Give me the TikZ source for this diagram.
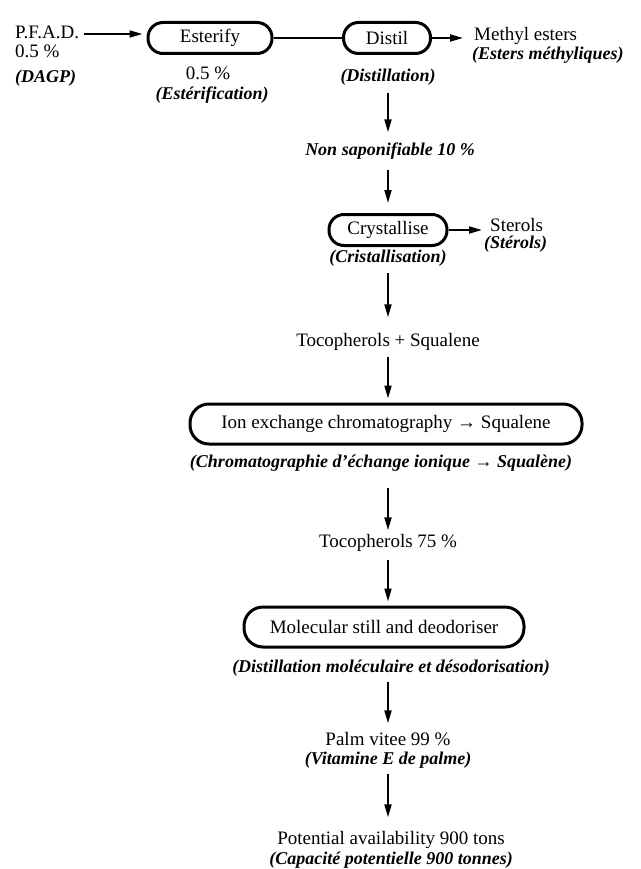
\documentclass[tikz,border=0pt]{standalone}
\usepackage{fontspec}
\setmainfont{Liberation Serif}
\usetikzlibrary{arrows.meta}
\begin{document}
\begin{tikzpicture}[x=1pt,y=-1pt,
  txt/.style={inner sep=2pt,text height=13pt,text depth=4pt,font=\fontsize{19}{19}\selectfont},
  itx/.style={txt,font=\fontsize{18}{18}\selectfont\bfseries\itshape},
  pill/.style={draw,line width=3pt,rounded corners=15pt,inner sep=0pt,font=\fontsize{19}{19}\selectfont},
  arr/.style={line width=1.9pt,-{Triangle[length=13pt,width=7pt]}},
  lin/.style={line width=1.9pt}]
\useasboundingbox (0,0) rectangle (640,869);
% top row
\node[txt,anchor=west] (pfad) at (13,34) {P.F.A.D.};
\node[txt,anchor=west] (pfadp) at (13,53) {0.5 \%};
\node[itx,anchor=west] (dagp) at (13,78) {(DAGP)};
\node[pill,minimum width=124pt,minimum height=31pt] (est) at (210,38) {Esterify};
\node[txt] (estp) at (208,75) {0.5 \%};
\node[itx] (estf) at (212,95) {(Estérification)};
\node[pill,minimum width=87pt,minimum height=31pt] (dis) at (387,38) {Distil};
\node[itx] (disl) at (388,77) {(Distillation)};
\node[txt,anchor=west] (meth) at (472,36) {Methyl esters};
\node[itx,anchor=west] (methf) at (470,55) {(Esters méthyliques)};
\draw[arr,shorten <=3pt,shorten >=4pt] (pfad.east) -- (pfad.east -| est.west);
\draw[lin] (est.east) -- (dis.west);
\draw[arr,shorten >=9pt] (dis.east) -- (dis.east -| meth.west);
% non saponifiable
\node[itx] (nons) at (390,151) {Non saponifiable 10 \%};
\draw[arr,shorten <=5pt,shorten >=8pt] (disl.south) -- (disl.south |- nons.north);
% crystallise
\node[pill,minimum width=118pt,minimum height=31pt] (cry) at (388,230) {Crystallise};
\node[itx] (cryl) at (388,258) {(Cristallisation)};
\node[txt,anchor=west] (ster) at (488,227) {Sterols};
\node[itx,anchor=west] (sterf) at (482,244) {(Stérols)};
\draw[arr,shorten <=8pt,shorten >=10pt] (nons.south -| cry.north) -- (cry.north);
\draw[arr,shorten >=6pt] (cry.east) -- (cry.east -| ster.west);
% tocopherols + squalene
\node[txt] (tsq) at (388,342) {Tocopherols + Squalene};
\draw[arr,shorten <=4pt,shorten >=14pt] (cryl.south) -- (tsq.north);
% ion exchange
\node[pill,minimum width=392pt,minimum height=40pt,rounded corners=19pt] (ion) at (386,424) {Ion exchange chromatography → Squalene};
\node[itx] (ionl) at (381,463) {(Chromatographie d'échange ionique → Squalène)};
\draw[arr,shorten <=4pt,shorten >=4pt] (tsq.south) -- (tsq.south |- ion.north);
% tocopherols 75
\node[txt] (t75) at (388,543) {Tocopherols 75 \%};
\draw[arr,shorten <=14pt,shorten >=2pt] (ionl.south -| t75.north) -- (t75.north);
% molecular still
\node[pill,minimum width=280pt,minimum height=40pt,rounded corners=19pt] (mol) at (384,627) {Molecular still and deodoriser};
\node[itx] (moll) at (391,668) {(Distillation moléculaire et désodorisation)};
\draw[arr,shorten <=6pt,shorten >=4pt] (t75.south) -- (t75.south |- mol.north);
% palm vitee
\node[txt] (palm) at (388,741) {Palm vitee 99 \%};
\node[itx] (palmf) at (388,760) {(Vitamine E de palme)};
\draw[arr,shorten <=3pt,shorten >=7pt] (moll.south -| palm.north) -- (palm.north);
% potential
\node[txt] (pot) at (391,840) {Potential availability 900 tons};
\node[itx] (potf) at (391,860) {(Capacité potentielle 900 tonnes)};
\draw[arr,shorten <=3pt,shorten >=12pt] (palmf.south) -- (palmf.south |- pot.north);
\end{tikzpicture}
\end{document}
